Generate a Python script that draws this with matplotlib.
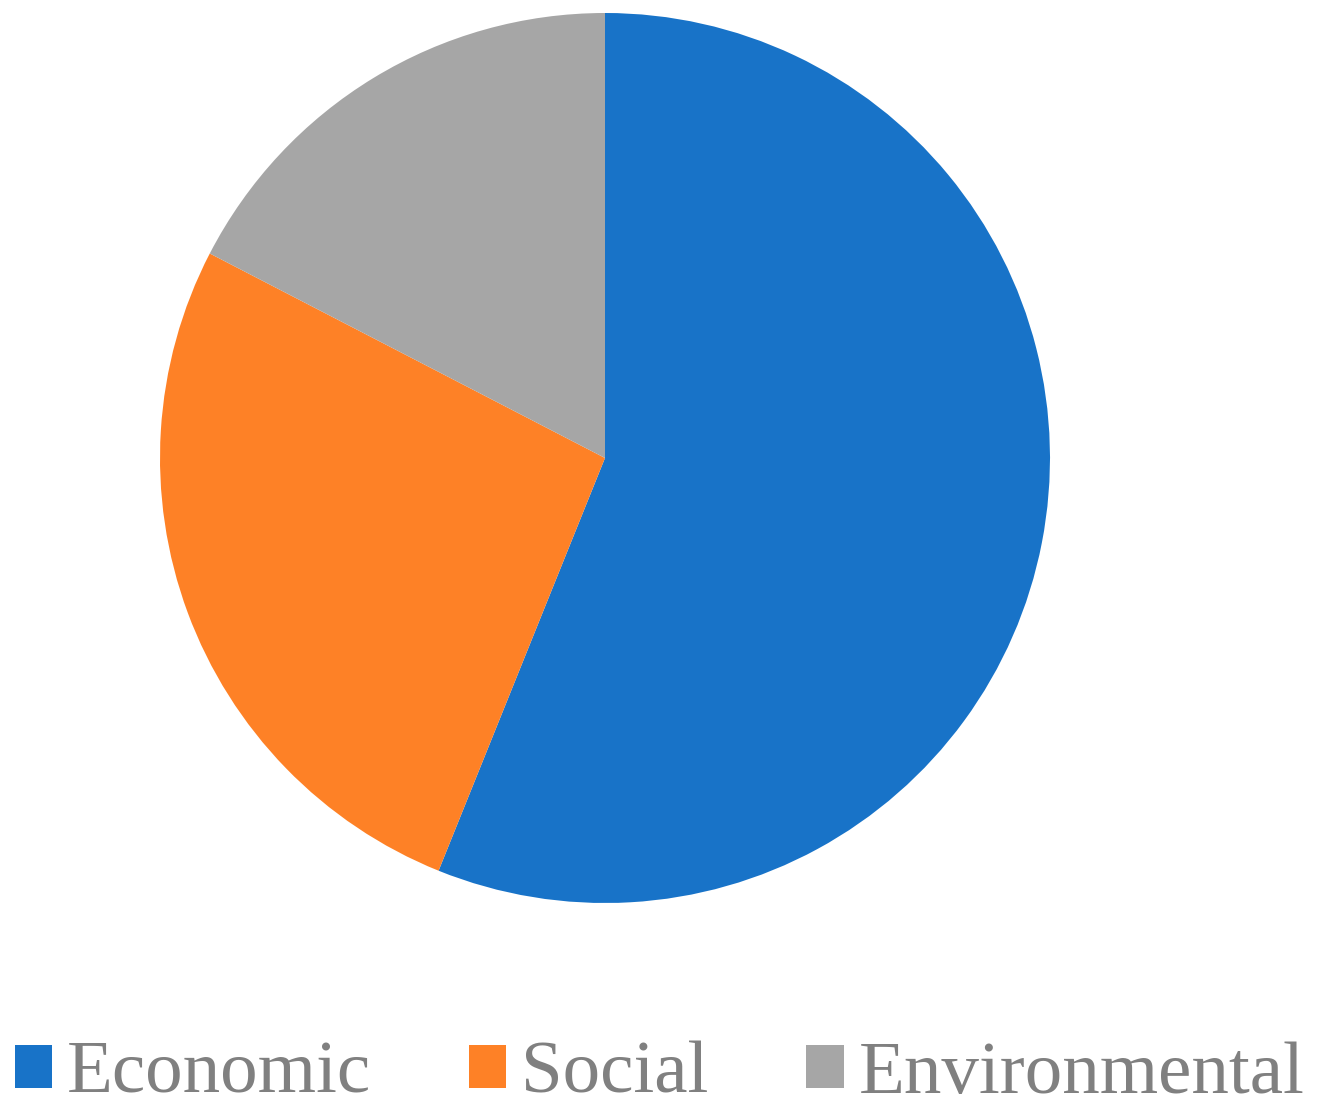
import matplotlib
matplotlib.use("Agg")
import matplotlib.pyplot as plt

categories = ["Economic", "Social", "Environmental"]
values = [56.1, 26.5, 17.4]
colors = ["#1873C8", "#FE8126", "#A6A6A6"]

W, H = 1319, 1117
fig = plt.figure(figsize=(W / 100, H / 100), dpi=100)
cx, cy, r = 605, 458, 445
ax = fig.add_axes([(cx - r) / W, 1 - (cy + r) / H, 2 * r / W, 2 * r / H])
wedges, _ = ax.pie(values, colors=colors, startangle=90, counterclock=False,
                   radius=1.0, wedgeprops=dict(linewidth=0))
ax.set_xlim(-1, 1)
ax.set_ylim(-1, 1)
ax.set_aspect("equal")
ax.axis("off")

leg = fig.legend(wedges, categories, loc="center", bbox_to_anchor=(0.5, 1 - 1075 / H),
                 ncol=3, frameon=False,
                 prop=dict(family="Liberation Serif", size=54),
                 handlelength=0.5, handleheight=0.5, handletextpad=0.2,
                 columnspacing=1.3, labelcolor="#808080")
fig.savefig("out.png", dpi=100)
